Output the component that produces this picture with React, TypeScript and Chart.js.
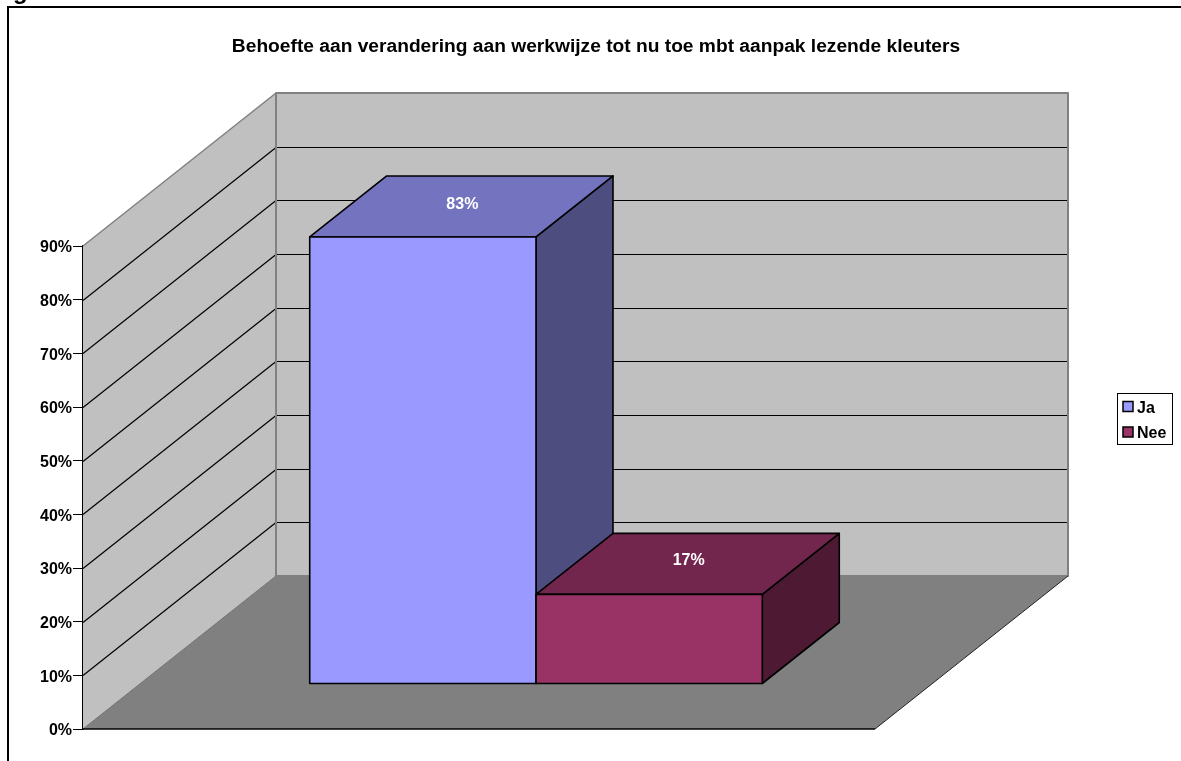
import React, { useEffect, useRef } from "react";
import { Chart, registerables } from "chart.js";

Chart.register(...registerables);

const titleText = "Behoefte aan verandering aan werkwijze tot nu toe mbt aanpak lezende kleuters";
const categories = [""];
const seriesNames = ["Ja", "Nee"];
const jaValues = [83.3];
const neeValues = [16.7];
const valueLabels = ["83%", "17%"];
const yMin = 0;
const yMax = 90;
const yStep = 10;

const FONT = "'Liberation Sans', Arial, sans-serif";
const WALL = "#C0C0C0";
const FLOOR = "#808080";
const DEPTH_X = 193;
const DEPTH_Y = 153;
const BAR_SHIFT_X = 57;
const BAR_SHIFT_Y = -45;
const BAR_DEPTH_X = 77;
const BAR_DEPTH_Y = 61;
const faceColors = [
  { front: "#9999FF", top: "#7373BF", side: "#4D4D80" },
  { front: "#993366", top: "#73264D", side: "#4D1933" },
];

function poly(ctx: CanvasRenderingContext2D, pts: number[][], fill: string | null, stroke: string | null, lw = 1) {
  ctx.beginPath();
  pts.forEach(([x, y], i) => (i ? ctx.lineTo(x, y) : ctx.moveTo(x, y)));
  ctx.closePath();
  if (fill) {
    ctx.fillStyle = fill;
    ctx.fill();
  }
  if (stroke) {
    ctx.strokeStyle = stroke;
    ctx.lineWidth = lw;
    ctx.lineJoin = "round";
    ctx.stroke();
  }
}

function line(ctx: CanvasRenderingContext2D, x1: number, y1: number, x2: number, y2: number, color: string, lw: number) {
  ctx.beginPath();
  ctx.moveTo(x1, y1);
  ctx.lineTo(x2, y2);
  ctx.strokeStyle = color;
  ctx.lineWidth = lw;
  ctx.stroke();
}

const box3d = {
  id: "box3d",
  afterLayout(chart: any) {
    const lg = chart.legend;
    lg.left = 1114;
    lg.right = 1181;
    lg.width = 67;
    lg.top = 391.5;
    lg.bottom = 480;
    lg.height = 88.5;
    const t = chart.titleBlock;
    t.left = 11;
    t.right = 1181;
    t.width = 1170;
  },
  beforeDraw(chart: any) {
    const ctx: CanvasRenderingContext2D = chart.ctx;
    // tick labels sit a little under their tick marks
    chart.scales.y.getLabelItems(chart.chartArea).forEach((item: any) => {
      item.textOffset = 2;
    });
    ctx.save();
    // outer frame, cut by the picture on the right and at the bottom
    line(ctx, 8, 7, 1181, 7, "#000", 2);
    line(ctx, 8, 6, 8, 761, "#000", 2);
    // clipped heading above the frame
    ctx.fillStyle = "#000";
    ctx.font = `bold 24px ${FONT}`;
    ctx.textAlign = "left";
    ctx.textBaseline = "alphabetic";
    ctx.fillText("g", 13, -1.5);
    ctx.restore();
  },
  beforeDatasetsDraw(chart: any) {
    const ctx: CanvasRenderingContext2D = chart.ctx;
    const y = chart.scales.y;
    const x = chart.scales.x;
    const l = x.left;
    const r = x.right;
    const y0 = y.getPixelForValue(yMin);
    const yT = y.getPixelForValue(yMax);
    ctx.save();
    // side wall, back wall, floor
    poly(ctx, [[l, y0], [l + DEPTH_X, y0 - DEPTH_Y], [l + DEPTH_X, yT - DEPTH_Y], [l, yT]], WALL, null);
    poly(ctx, [[l + DEPTH_X, yT - DEPTH_Y], [r + DEPTH_X, yT - DEPTH_Y], [r + DEPTH_X, y0 - DEPTH_Y], [l + DEPTH_X, y0 - DEPTH_Y]], WALL, null);
    poly(ctx, [[l, y0], [r, y0], [r + DEPTH_X, y0 - DEPTH_Y], [l + DEPTH_X, y0 - DEPTH_Y]], FLOOR, null);
    // grid lines on both walls
    for (let v = yMin + yStep; v < yMax; v += yStep) {
      const py = Math.round(y.getPixelForValue(v)) + 0.5;
      line(ctx, l, py, l + DEPTH_X, py - DEPTH_Y, "#000", 1.2);
      line(ctx, l + DEPTH_X, py - DEPTH_Y, r + DEPTH_X, py - DEPTH_Y, "#000", 1);
    }
    // wall edges
    poly(ctx, [[l + DEPTH_X, yT - DEPTH_Y], [r + DEPTH_X, yT - DEPTH_Y], [r + DEPTH_X, y0 - DEPTH_Y], [l + DEPTH_X, y0 - DEPTH_Y]], null, "#808080", 2);
    line(ctx, l, yT, l + DEPTH_X, yT - DEPTH_Y, "#808080", 1.5);
    line(ctx, l, y0, l + DEPTH_X, y0 - DEPTH_Y, "#707070", 1);
    line(ctx, r, y0, r + DEPTH_X, y0 - DEPTH_Y, "#222", 1);
    line(ctx, l, y0, r, y0, "#000", 1.5);

    // top and side faces of every bar, in series order
    chart.data.datasets.forEach((_: any, i: number) => {
      const meta = chart.getDatasetMeta(i);
      const c = faceColors[i];
      meta.data.forEach((el: any) => {
        const { x: cx, y: top, base, width } = el.getProps(["x", "y", "base", "width"], true);
        const a = cx - width / 2 + BAR_SHIFT_X;
        const b = cx + width / 2 + BAR_SHIFT_X;
        const t = top + BAR_SHIFT_Y;
        const f = base + BAR_SHIFT_Y;
        poly(ctx, [[b, t], [b + BAR_DEPTH_X, t - BAR_DEPTH_Y], [b + BAR_DEPTH_X, f - BAR_DEPTH_Y], [b, f]], c.side, "#000", 1.6);
        poly(ctx, [[a, t], [b, t], [b + BAR_DEPTH_X, t - BAR_DEPTH_Y], [a + BAR_DEPTH_X, t - BAR_DEPTH_Y]], c.top, "#000", 1.6);
      });
    });
    ctx.restore();
  },
  beforeDatasetDraw(chart: any) {
    chart.ctx.save();
    chart.ctx.translate(BAR_SHIFT_X, BAR_SHIFT_Y);
  },
  afterDatasetDraw(chart: any) {
    chart.ctx.restore();
  },
  afterDatasetsDraw(chart: any) {
    const ctx: CanvasRenderingContext2D = chart.ctx;
    ctx.save();
    ctx.font = `bold 16px ${FONT}`;
    ctx.textAlign = "center";
    ctx.textBaseline = "middle";
    chart.data.datasets.forEach((_: any, i: number) => {
      chart.getDatasetMeta(i).data.forEach((el: any) => {
        const { x: cx, y: top, base, width } = el.getProps(["x", "y", "base", "width"], true);
        // outline of the front face
        poly(
          ctx,
          [
            [cx - width / 2 + BAR_SHIFT_X, top + BAR_SHIFT_Y],
            [cx + width / 2 + BAR_SHIFT_X, top + BAR_SHIFT_Y],
            [cx + width / 2 + BAR_SHIFT_X, base + BAR_SHIFT_Y],
            [cx - width / 2 + BAR_SHIFT_X, base + BAR_SHIFT_Y],
          ],
          null,
          "#000",
          1.6,
        );
        ctx.fillStyle = "#fff";
        ctx.fillText(valueLabels[i], cx + BAR_SHIFT_X + BAR_DEPTH_X / 2 + 1, top + BAR_SHIFT_Y - BAR_DEPTH_Y / 2 - (i === 0 ? 1.5 : 3));
      });
    });
    ctx.restore();
  },
  afterDraw(chart: any) {
    const ctx: CanvasRenderingContext2D = chart.ctx;
    ctx.save();
    ctx.strokeStyle = "#000";
    ctx.lineWidth = 1;
    ctx.strokeRect(1117.5, 393.5, 55, 51);
    // legend swatches, wider than the box the legend reserves before its text
    ctx.lineWidth = 1.5;
    chart.legend.legendItems.forEach((item: any, i: number) => {
      ctx.fillStyle = item.fillStyle;
      ctx.fillRect(1123, 401.5 + i * 25.5, 10, 10);
      ctx.strokeRect(1123, 401.5 + i * 25.5, 10, 10);
    });
    ctx.restore();
  },
};

export default function App() {
  const ref = useRef<HTMLCanvasElement | null>(null);
  useEffect(() => {
    if (!ref.current) return;
    const chart = new Chart(ref.current, {
      type: "bar",
      plugins: [box3d],
      data: {
        labels: categories,
        datasets: [
          { label: seriesNames[0], data: jaValues, backgroundColor: faceColors[0].front, borderWidth: 0, clip: false },
          { label: seriesNames[1], data: neeValues, backgroundColor: faceColors[1].front, borderWidth: 0, clip: false },
        ] as any,
      },
      options: {
        responsive: false,
        animation: false,
        layout: { padding: { left: 0, right: 306, top: 0, bottom: 32 } },
        datasets: { bar: { categoryPercentage: 2 / 3.5, barPercentage: 1 } },
        scales: {
          x: { display: false },
          y: {
            min: yMin,
            max: yMax,
            afterFit(scale: any) {
              scale.width = 83;
            },
            ticks: {
              stepSize: yStep,
              padding: 1,
              color: "#000",
              font: { family: FONT, size: 16, weight: "bold" },
              callback: (v: any) => `${v}%`,
            },
            grid: { drawOnChartArea: false, drawTicks: true, tickLength: 10, color: "#000", lineWidth: 1 },
            border: { display: true, color: "#000", width: 1.5 },
          },
        },
        plugins: {
          tooltip: { enabled: false },
          title: {
            display: true,
            text: titleText,
            color: "#000",
            align: "center",
            font: { family: FONT, size: 19.2, weight: "bold" },
            padding: { top: 35, bottom: 187.96 },
          },
          legend: {
            display: true,
            position: "chartArea",
            align: "start",
            onClick: () => {},
            labels: {
              color: "#000",
              font: { family: FONT, size: 16, weight: "bold" },
              boxWidth: 6,
              boxHeight: 6,
              padding: 9,
            },
          },
        },
      } as any,
    });
    return () => chart.destroy();
  }, []);
  return (
    <div style={{ position: "absolute", left: 0, top: 0, width: 1181, height: 761, overflow: "hidden", background: "#fff" }}>
      <canvas ref={ref} width={1181} height={761} style={{ display: "block" }} />
    </div>
  );
}
